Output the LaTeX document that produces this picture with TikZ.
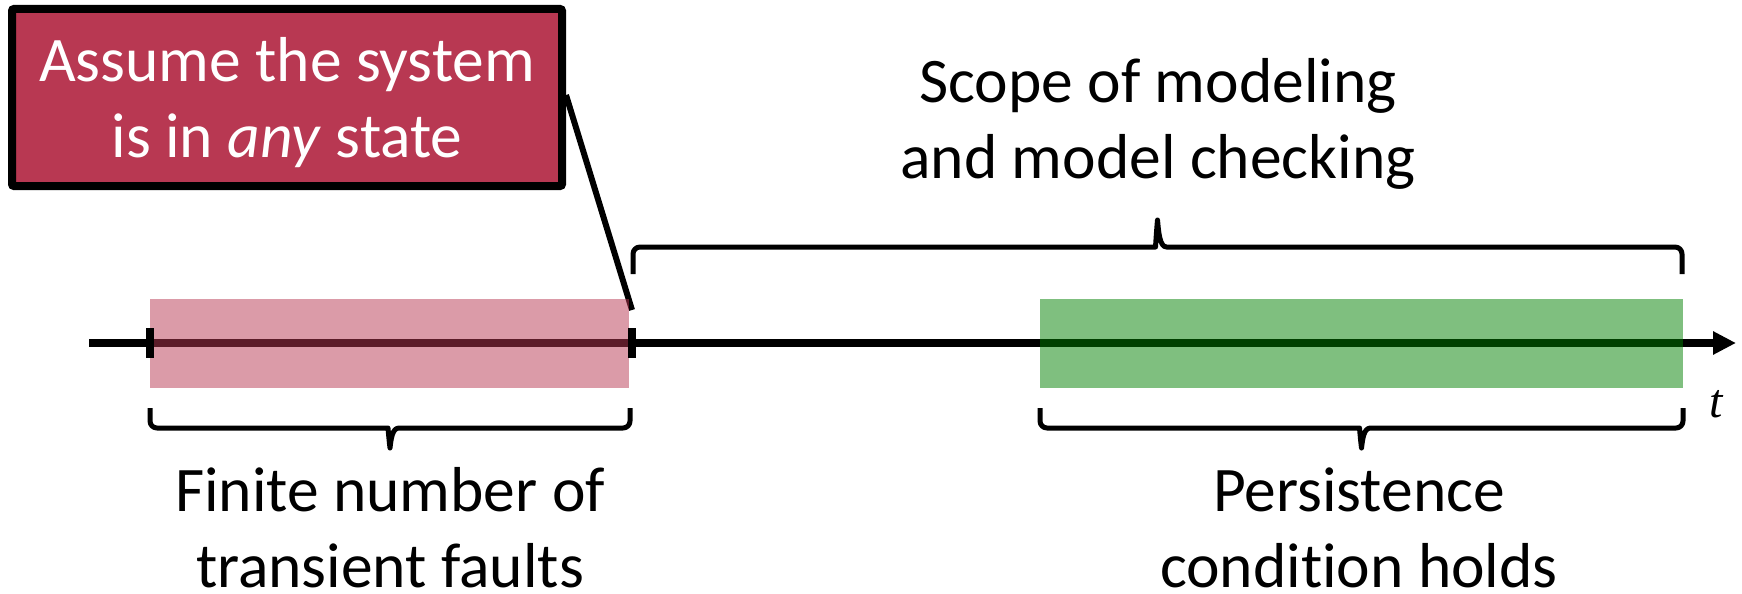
\documentclass[tikz,border=0pt]{standalone}
\usepackage{fontspec}
\setmainfont[Ligatures={NoCommon}]{Carlito}
\newfontfamily\tfont{Liberation Serif}
\usetikzlibrary{arrows.meta}

\definecolor{faultred}{HTML}{B83852}
\definecolor{persistgreen}{HTML}{008000}

\tikzset{
  lbl/.style={font=\fontsize{63.5}{76}\selectfont, align=center, inner sep=0pt, anchor=base},
  callbox/.style={draw=black, line width=8pt, fill=faultred, rounded corners=2pt,
    inner sep=0pt, minimum width=550pt, minimum height=177pt},
  leader/.style={line width=6pt},
  timeline/.style={line width=8pt, -{Triangle[length=23pt,width=22pt]}},
  ticmark/.style={line width=8pt},
  band/.style={fill opacity=0.5, draw=none},
  bracestyle/.style={line width=5pt, line join=round},
}

% curly brace: left x, right x, y of the ends, signed height (negative opens downward)
\newcommand{\timebrace}[4]{%
  \pgfmathsetmacro\brm{(#1+#2)/2}%
  \pgfmathsetmacro\brb{#3+#4/2}%
  \pgfmathsetmacro\brt{#3+#4}%
  \pgfmathsetmacro\brq{#3+0.8*#4}%
  \draw[bracestyle] (#1,#3) [rounded corners=7pt] -- (#1,\brb) -- (\brm-9,\brb) [sharp corners]
    .. controls (\brm-2,\brb) and (\brm-1,\brq) .. (\brm,\brt)
    .. controls (\brm+1,\brq) and (\brm+2,\brb) .. (\brm+9,\brb)
    [rounded corners=7pt] -- (#2,\brb) -- (#2,#3);
}

\begin{document}
\begin{tikzpicture}[x=1pt,y=-1pt]
\useasboundingbox (0,0) rectangle (1742,594);

% points on the time line
\coordinate (tstart) at (89,343);
\coordinate (tend) at (1736,343);
\coordinate (f0) at (150,343);
\coordinate (f1) at (632,343);
\coordinate (leadend) at (632,310);

% callout (multi-line labels are placed by the baseline of their last line)
\node[callbox] (callout) at (287,97.5) {};
\node[lbl, text=white] (calltext) at (287,157) {Assume the system\\is in \textit{any} state};
\draw[leader] ([yshift=2.5pt]callout.east) -- (leadend);

% time axis and the two phases
\draw[timeline] (tstart) -- (tend);
\fill[band, faultred] (150,299) rectangle (629,388);
\fill[band, persistgreen] (1040,299) rectangle (1683,388);
\draw[ticmark] ([yshift=15pt]f0) -- ([yshift=-15pt]f0);
\draw[ticmark] ([yshift=15pt]f1) -- ([yshift=-15pt]f1);

% braces
\timebrace{633}{1682}{274}{-54}
\timebrace{150}{630}{408}{40}
\timebrace{1040}{1683}{408}{40}

% labels
\node[lbl] (scope) at (1158,178) {Scope of modeling\\and model checking};
\node[lbl] (finite) at (390,587) {Finite number of\\transient faults};
\node[lbl] (persist) at (1359,587) {Persistence\\condition holds};
\node[font=\fontsize{48}{48}\selectfont\tfont\itshape, inner sep=0pt, anchor=base] (tlabel) at (1716,417) {t};
\end{tikzpicture}
\end{document}
